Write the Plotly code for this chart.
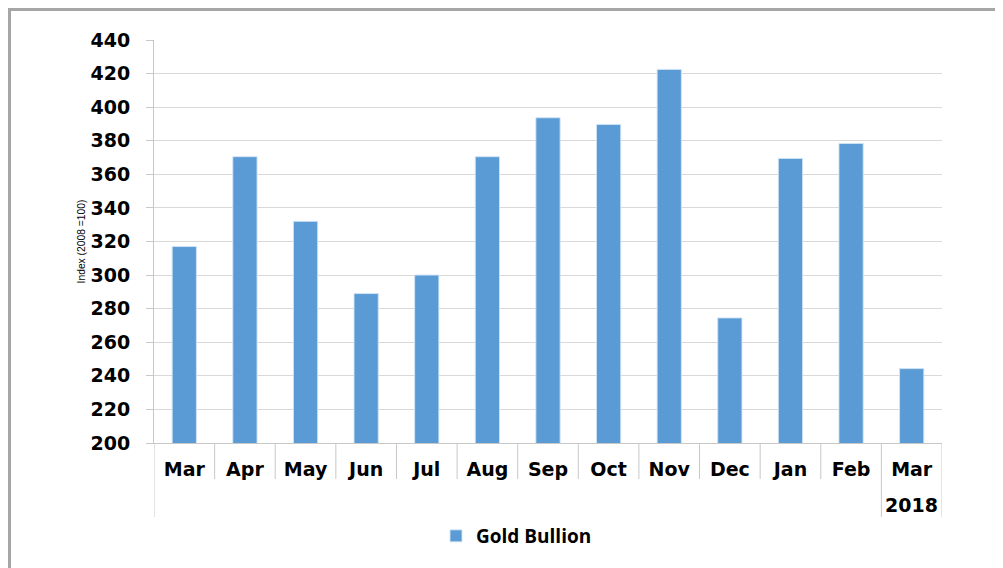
import plotly.graph_objects as go

months = ["Mar", "Apr", "May", "Jun", "Jul", "Aug", "Sep", "Oct", "Nov", "Dec", "Jan", "Feb", "Mar"]
keys = ["2017-03", "2017-04", "2017-05", "2017-06", "2017-07", "2017-08", "2017-09",
        "2017-10", "2017-11", "2017-12", "2018-01", "2018-02", "2018-03"]
gold_bullion = [317, 370.5, 332, 289, 300, 370.5, 393.7, 389.7, 422.5, 274.5, 369.5, 378.4, 244.3]
year_label = "2018"
series_name = "Gold Bullion"
y_ticks = list(range(200, 441, 20))

OFF = 8  # page body margin
W, H = 1003 - OFF, 568 - OFF
ML, MR, MT, MB = 154 - OFF, 61, 40 - OFF, 125
plot_w = W - ML - MR
plot_h = H - MT - MB

def py(screen_y):
    return (H - MB - (screen_y - OFF)) / plot_h

def px(screen_x):
    return ((screen_x - OFF) - ML) / plot_w

grid = "#d9d9d9"
axis_c = "#c8c8c8"

fig = go.Figure()
fig.add_trace(go.Bar(
    x=keys, y=gold_bullion, name=series_name,
    marker=dict(color="#5b9bd5", line=dict(color="rgba(210,228,246,0.9)", width=1)),
    showlegend=True,
))

n = len(keys)
shapes = []
for i in range(n + 1):
    b = i - 0.5
    long = (i == 0) or (i >= n - 1)
    shapes.append(dict(type="line", xref="x", yref="paper", x0=b, x1=b,
                       y0=0, y1=py(517) if long else py(479),
                       line=dict(color=axis_c, width=1)))
# outer frame
shapes.append(dict(type="rect", xref="paper", yref="paper",
                   x0=px(9.5), x1=px(1020), y0=py(585), y1=py(9.5),
                   line=dict(color="#a6a6a6", width=3), fillcolor="rgba(0,0,0,0)", layer="below"))

fig.update_layout(
    width=W, height=H,
    margin=dict(l=ML, r=MR, t=MT, b=MB, pad=0),
    paper_bgcolor="white", plot_bgcolor="white",
    bargap=0.6,
    shapes=shapes,
    font=dict(family="DejaVu Sans", color="black"),
    annotations=[dict(text="<b>%s</b>" % year_label, x=n - 1, xref="x", y=py(505), yref="paper",
                      showarrow=False, xanchor="center", yanchor="middle",
                      font=dict(family="DejaVu Sans", size=19, color="black"))],
    legend=dict(orientation="h", x=px(436), xanchor="left", y=py(536), yanchor="middle",
                font=dict(family="Open Sans", size=19, color="black", weight="bold"),
                bgcolor="rgba(0,0,0,0)"),
    xaxis=dict(type="category", categoryorder="array", categoryarray=keys,
               tickmode="array", tickvals=keys, ticktext=months,
               tickfont=dict(family="DejaVu Sans", size=19, color="black", weight="bold"),
               ticks="", ticklabelstandoff=9, showgrid=False,
               showline=True, linecolor=axis_c, linewidth=1, zeroline=False,
               range=[-0.5, n - 0.5]),
    yaxis=dict(range=[200, 440], tickmode="array", tickvals=y_ticks,
               tickfont=dict(family="DejaVu Sans", size=19, color="black", weight="bold"),
               ticks="outside", ticklen=7, tickcolor=axis_c, ticklabelstandoff=12,
               showgrid=True, gridcolor=grid, gridwidth=1,
               showline=True, linecolor=axis_c, linewidth=1, zeroline=False,
               title=dict(text="Index (2008 =100)", standoff=2,
                          font=dict(family="Liberation Sans", size=10.3, color="black"))),
)

fig.write_html("out.html")
